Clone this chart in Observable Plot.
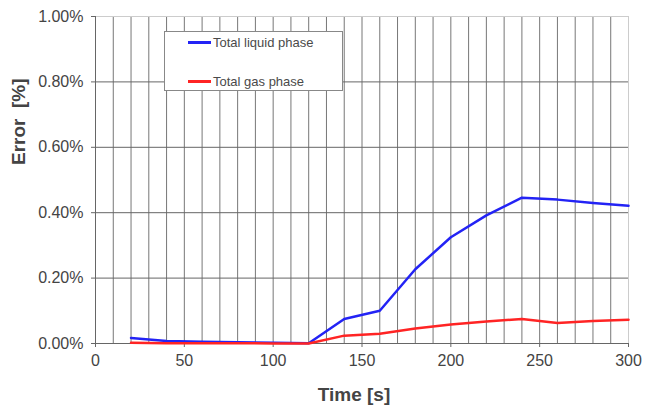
<!DOCTYPE html>
<html>
<head>
<meta charset="utf-8">
<script src="https://cdn.jsdelivr.net/npm/d3@7"></script>
<script src="https://cdn.jsdelivr.net/npm/@observablehq/plot@0.6"></script>
<style>
  html, body { margin: 0; padding: 0; background: #fff; }
  #wrap { position: relative; width: 648px; height: 405px; font-family: "Liberation Sans", Arial, sans-serif; }
  #legend { position: absolute; left: 164px; top: 31px; width: 179px; height: 60px; background: #fff; border: 1px solid #888; box-sizing: border-box; font-size: 13px; color: #4a4a4a; }
  .item { position: absolute; left: 23px; display: flex; align-items: center; height: 15px; }
  .sw { width: 23px; height: 3px; margin-right: 2px; }
</style>
</head>
<body>
<div id="wrap"></div>
<script>
const time = [20, 40, 60, 80, 100, 120, 140, 160, 180, 200, 220, 240, 260, 280, 300];
const liquid = [0.017, 0.008, 0.005, 0.004, 0.002, 0.001, 0.075, 0.100, 0.227, 0.325, 0.392, 0.446, 0.440, 0.430, 0.421];
const gas = [0.002, 0.001, 0.001, 0.001, 0.000, 0.000, 0.024, 0.030, 0.046, 0.058, 0.067, 0.075, 0.063, 0.069, 0.073];
const seriesNames = ["Total liquid phase", "Total gas phase"];
const seriesColors = ["#2323f5", "#ff2424"];
const xTicks = [0, 50, 100, 150, 200, 250, 300];
const yTicks = [0, 0.2, 0.4, 0.6, 0.8, 1.0];
const xGrid = d3.range(0, 301, 10);

const rows = [];
time.forEach((t, i) => {
  rows.push({t, v: liquid[i], s: seriesNames[0]});
  rows.push({t, v: gas[i], s: seriesNames[1]});
});

const chart = Plot.plot({
  width: 648,
  height: 405,
  marginLeft: 95,
  marginRight: 20,
  marginTop: 16,
  marginBottom: 62,
  style: {fontFamily: "Liberation Sans, Arial, sans-serif", fontSize: "16px", color: "#444", background: "#fff"},
  x: {domain: [0, 300], ticks: xTicks, label: null},
  y: {domain: [0, 1], ticks: yTicks, label: null, tickFormat: d => d.toFixed(2) + "%"},
  color: {domain: seriesNames, range: seriesColors},
  marks: [
    Plot.gridX(xGrid, {stroke: "#777", strokeOpacity: 1, strokeWidth: 1}),
    Plot.gridY(yTicks, {stroke: "#666", strokeOpacity: 1, strokeWidth: 1}),
    Plot.ruleX([300], {stroke: "#ccc", strokeWidth: 1}),
    Plot.ruleY([1], {stroke: "#ccc", strokeWidth: 1}),
    Plot.ruleY([0], {stroke: "#666", strokeWidth: 1}),
    Plot.ruleX([0], {stroke: "#666", strokeWidth: 1}),
    Plot.axisX({ticks: xTicks, tickSize: 4, tickPadding: 7, fontSize: 16, stroke: "#666", color: "#444", label: null}),
    Plot.axisY({ticks: yTicks, tickSize: 4, tickPadding: 8, fontSize: 16, stroke: "#666", color: "#444", label: null, tickFormat: d => d.toFixed(2) + "%"}),
    Plot.line(rows, {x: "t", y: "v", stroke: "s", z: "s", strokeWidth: 2.5}),
    Plot.text(["Time [s]"], {frameAnchor: "bottom", dx: -8, dy: 57, fontSize: 19, fontWeight: "bold", fill: "#444"}),
    Plot.text(["Error  [%]"], {frameAnchor: "left", dx: -77, dy: -15, rotate: -90, fontSize: 19, fontWeight: "bold", fill: "#444"})
  ]
});

const wrap = document.getElementById("wrap");
wrap.appendChild(chart);

const legend = document.createElement("div");
legend.id = "legend";
const tops = [3, 42];
seriesNames.forEach((name, i) => {
  const it = document.createElement("div");
  it.className = "item";
  it.style.top = tops[i] + "px";
  const sw = document.createElement("div");
  sw.className = "sw";
  sw.style.background = seriesColors[i];
  const lb = document.createElement("span");
  lb.textContent = name;
  it.appendChild(sw);
  it.appendChild(lb);
  legend.appendChild(it);
});
wrap.appendChild(legend);
</script>
</body>
</html>
